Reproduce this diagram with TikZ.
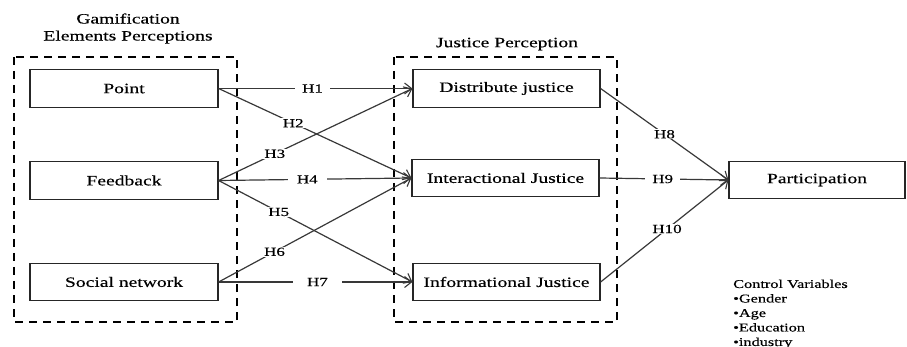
\documentclass[tikz,border=0pt]{standalone}
\usepackage{fontspec}
\setmainfont[FakeStretch=1.37,FakeBold=0.4]{Liberation Serif}
\usetikzlibrary{arrows.meta}
\begin{document}
\begin{tikzpicture}[x=1pt,y=-1pt,
  box/.style={draw=black!85,line width=1.2pt,rectangle,minimum height=37.5pt,inner sep=0pt,font=\fontsize{14.3}{17}\selectfont},
  group/.style={draw=black,line width=2.8pt,dash pattern=on 8pt off 6pt},
  conn/.style={draw=black!78,line width=1.2pt,-{Straight Barb[length=7pt,width=11pt,line width=1.1pt]}},
  hlab/.style={fill=white,inner ysep=1pt,inner xsep=7pt,font=\fontsize{12.4}{14}\selectfont},
  title/.style={align=center,font=\fontsize{14.3}{17}\selectfont,inner sep=0pt}]
\useasboundingbox (0,0) rectangle (907,347);
% group frames
\draw[group] (14,57) rectangle (237,322);
\draw[group] (394,57) rectangle (617,322);
\node[title] (tg) at (128,28.5) {Gamification\\Elements Perceptions};
\node[title] (tj) at (507,44) {Justice Perception};
% boxes
\node[box,minimum width=188pt] (point) at (124,88.5) {Point};
\node[box,minimum width=188pt] (feed) at (124,180.5) {Feedback};
\node[box,minimum width=188pt] (social) at (124,282) {Social network};
\node[box,minimum width=187pt] (dist) at (506.5,88.5) {Distribute justice};
\node[box,minimum width=187pt] (inter) at (505.5,178) {Interactional Justice};
\node[box,minimum width=187pt] (info) at (506.5,282) {Informational Justice};
\node[box,minimum width=176pt] (part) at (817,180) {Participation};
% connectors
\draw[conn] (point.east) -- node[hlab,pos=0.485] {H1} (dist.west);
\draw[conn] (point.east) -- node[hlab,pos=0.387,inner xsep=3pt] {H2} (inter.west);
\draw[conn] (feed.east) -- node[hlab,pos=0.29,inner xsep=3pt] {H3} (dist.west);
\draw[conn] (feed.east) -- node[hlab,pos=0.46,inner xsep=9pt] {H4} (inter.west);
\draw[conn] (feed.east) -- node[hlab,pos=0.31,inner xsep=3pt] {H5} (info.west);
\draw[conn] (social.east) -- node[hlab,pos=0.29,inner xsep=3pt] {H6} (inter.west);
\draw[conn] (social.east) -- node[hlab,pos=0.51,inner xsep=14pt] {H7} (info.west);
\draw[conn] (dist.east) -- node[hlab,pos=0.5,inner xsep=3pt] {H8} (part.west);
\draw[conn] (inter.east) -- node[hlab,pos=0.49] {H9} (part.west);
\draw[conn] (info.east) -- node[hlab,pos=0.52,inner xsep=3pt] {H10} (part.west);
% control variables
\node[anchor=north west,align=left,inner sep=0pt,font=\fontsize{11.9}{14.5}\selectfont] (ctrl) at (733,279.5)
  {Control Variables\\•Gender\\•Age\\•Education\\•industry};
\end{tikzpicture}
\end{document}
